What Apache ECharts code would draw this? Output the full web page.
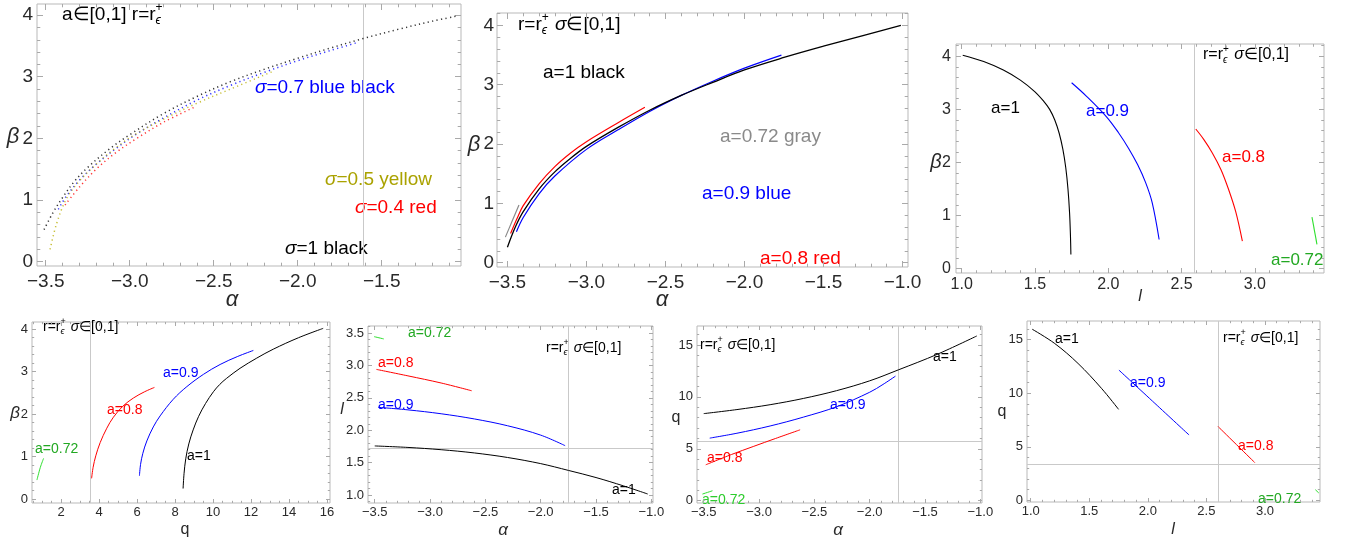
<!DOCTYPE html>
<html>
<head>
<meta charset="utf-8">
<script src="https://cdn.jsdelivr.net/npm/echarts@6/dist/echarts.min.js"></script>
<style>
  html, body { margin: 0; padding: 0; background: #fff; }
  #chart { width: 1350px; height: 544px; }
</style>
</head>
<body>
<div id="chart"></div>
<script>
// ---- curve data: [x, y] pairs per panel ----
// Panel 1: beta vs alpha, a in [0,1], dotted curves for several sigma
const p1Sigma1  = [[-3.51,0.52],[-3.46,0.78],[-3.40,1.04],[-3.33,1.30],[-3.25,1.53],[-3.12,1.83],[-3.00,2.06],[-2.80,2.40],[-2.60,2.68],[-2.40,2.92],[-2.20,3.12],[-2.00,3.30],[-1.80,3.47],[-1.61,3.62],[-1.40,3.77],[-1.20,3.90],[-1.06,3.98]];
const p1Sigma07 = [[-3.425,0.85],[-3.38,1.05],[-3.30,1.32],[-3.20,1.58],[-3.08,1.84],[-2.96,2.07],[-2.80,2.33],[-2.60,2.62],[-2.40,2.86],[-2.20,3.07],[-2.00,3.26],[-1.80,3.43],[-1.65,3.55]];
const p1Sigma05 = [[-3.474,0.20],[-3.435,0.62],[-3.375,1.03],[-3.296,1.32],[-3.196,1.59],[-3.077,1.86],[-2.958,2.08],[-2.80,2.31],[-2.60,2.57],[-2.40,2.80],[-2.145,3.09]];
const p1Sigma04 = [[-3.385,0.92],[-3.296,1.22],[-3.196,1.51],[-3.077,1.78],[-2.958,2.00],[-2.80,2.26],[-2.62,2.50]];

// Panel 2: beta vs alpha, sigma in [0,1]
const p2A1   = [[-3.50,0.26],[-3.45,0.60],[-3.40,0.86],[-3.30,1.24],[-3.20,1.53],[-3.10,1.76],[-3.00,1.96],[-2.80,2.28],[-2.60,2.57],[-2.40,2.82],[-2.20,3.04],[-2.00,3.25],[-1.75,3.46],[-1.50,3.65],[-1.25,3.83],[-1.01,4.00]];
const p2A09  = [[-3.443,0.52],[-3.40,0.76],[-3.30,1.16],[-3.20,1.46],[-3.00,1.91],[-2.80,2.24],[-2.60,2.55],[-2.40,2.82],[-2.20,3.06],[-2.00,3.28],[-1.766,3.50]];
const p2A08  = [[-3.48,0.49],[-3.44,0.74],[-3.40,0.96],[-3.30,1.33],[-3.20,1.62],[-3.10,1.85],[-3.00,2.04],[-2.80,2.36],[-2.63,2.62]];
const p2A072 = [[-3.513,0.43],[-3.47,0.70],[-3.427,0.97]];

// Panel 3: beta vs l
const p3A1   = [[1.007,4.02],[1.15,3.90],[1.284,3.74],[1.40,3.55],[1.50,3.33],[1.56,3.15],[1.60,3.00],[1.635,2.80],[1.665,2.55],[1.69,2.25],[1.71,1.90],[1.725,1.50],[1.736,1.05],[1.742,0.62],[1.745,0.27]];
const p3A09  = [[1.75,3.50],[1.85,3.25],[1.988,2.86],[2.07,2.56],[2.14,2.26],[2.20,1.96],[2.255,1.62],[2.30,1.24],[2.347,0.55]];
const p3A08  = [[2.597,2.63],[2.65,2.44],[2.71,2.18],[2.77,1.86],[2.82,1.50],[2.87,1.07],[2.915,0.52]];
const p3A072 = [[3.39,0.97],[3.424,0.46]];

// Panel 4: beta vs q
const p4A1   = [[8.42,0.25],[8.47,0.60],[8.56,0.95],[8.72,1.30],[8.95,1.63],[9.24,1.95],[9.60,2.25],[10.02,2.53],[10.35,2.70],[10.7,2.84],[11.42,3.08],[12.3,3.32],[13.17,3.53],[14.5,3.80],[15.8,4.02]];
const p4A09  = [[6.12,0.55],[6.18,0.82],[6.30,1.08],[6.51,1.37],[6.85,1.70],[7.21,1.96],[7.90,2.35],[8.62,2.65],[9.50,2.94],[10.37,3.17],[11.3,3.36],[12.12,3.50]];
const p4A08  = [[3.60,0.49],[3.68,0.75],[3.82,1.02],[4.05,1.33],[4.40,1.67],[4.75,1.93],[5.25,2.19],[5.80,2.38],[6.40,2.53],[6.91,2.63]];
const p4A072 = [[0.72,0.45],[0.90,0.75],[1.07,0.96]];

// Panel 5: l vs alpha
const p5A1   = [[-3.50,1.758],[-3.20,1.735],[-2.90,1.700],[-2.60,1.650],[-2.30,1.580],[-2.00,1.485],[-1.749,1.38],[-1.50,1.27],[-1.25,1.14],[-1.033,1.016]];
const p5A09  = [[-3.47,2.355],[-3.20,2.315],[-2.90,2.255],[-2.60,2.175],[-2.30,2.07],[-2.00,1.925],[-1.779,1.762]];
const p5A08  = [[-3.485,2.94],[-3.20,2.84],[-2.90,2.73],[-2.624,2.61]];
const p5A072 = [[-3.506,3.446],[-3.418,3.41]];

// Panel 6: q vs alpha
const p6A1   = [[-3.50,8.39],[-3.20,8.78],[-2.90,9.25],[-2.60,9.85],[-2.30,10.6],[-2.00,11.55],[-1.742,12.6],[-1.39,14.1],[-1.032,15.87]];
const p6A09  = [[-3.446,6.03],[-3.20,6.50],[-2.90,7.20],[-2.60,8.05],[-2.30,9.05],[-2.00,10.45],[-1.88,11.20],[-1.767,12.0]];
const p6A08  = [[-3.482,3.46],[-3.25,4.45],[-3.053,5.22],[-2.85,6.00],[-2.629,6.83]];
const p6A072 = [[-3.512,0.64],[-3.421,0.96]];

// Panel 7: q vs l
const p7A1   = [[1.013,15.96],[1.205,14.63],[1.404,12.77],[1.604,10.45],[1.75,8.49]];
const p7A09  = [[1.753,12.15],[2.06,9.05],[2.352,6.10]];
const p7A08  = [[2.60,6.88],[2.913,3.53]];
const p7A072 = [[3.43,1.00],[3.46,0.69]];

// reference grid lines
const p1VLines = [-1.61];
const p3VLines = [2.592];
const p4VLines = [3.54];
const p5VLines = [-1.749], p5HLines = [1.73];
const p6VLines = [-1.742], p6HLines = [5.70];
const p7VLines = [2.60],   p7HLines = [3.38];

// tick labels
const alphaTicksShort = [-3.5, -3.0, -2.5, -2.0, -1.5];
const alphaTicks = [-3.5, -3.0, -2.5, -2.0, -1.5, -1.0];
const betaTicks = [0, 1, 2, 3, 4];
const lTicks = [1.0, 1.5, 2.0, 2.5, 3.0];
const qTicks = [2, 4, 6, 8, 10, 12, 14, 16];
const lTicksY = [1.0, 1.5, 2.0, 2.5, 3.0, 3.5];
const qTicksY = [0, 5, 10, 15];

// ---- styling ----
const FONT = "'Liberation Sans', Arial, sans-serif";
const TICK = '#a9a9a9';
const FRAME = '#b9b9b9';
const LBL = '#2a2a2a';
const BLACK = '#000000', BLUE = '#0000ff', RED = '#ff0000', GRAY = '#8a8a8a';
const GREEN_LINE = '#2ee02e', GREEN_TXT = '#22a822', YELLOW_LINE = '#b8ae00', YELLOW_TXT = '#aaa200';
const DOTS = [1.2, 3.3];

function fmt(v, d) {
  const s = Math.abs(v).toFixed(d);
  return (v < 0 ? '\u2212' : '') + s;
}
function minors(lo, hi, step, majors) {
  const out = [];
  for (let k = Math.ceil(lo / step - 1e-9); k * step <= hi + 1e-9; k++) {
    const v = +(k * step).toFixed(6);
    if (!majors.some(m => Math.abs(m - v) < 1e-9)) out.push(v);
  }
  return out;
}

const panels = [
  { rect: [37, 4, 424, 262], x: [-3.552, -1.028], y: [-0.07, 4.18], xt: alphaTicksShort, yt: betaTicks,
    xs: 0.1, ys: 0.2, xd: 1, yd: 0, fs: 19, tl: 6, xm: 6, ym: 4, vl: p1VLines, hl: [],
    curves: [[p1Sigma1, BLACK, 1.5, DOTS], [p1Sigma07, BLUE, 1.5, DOTS], [p1Sigma05, YELLOW_LINE, 1.5, DOTS], [p1Sigma04, RED, 1.5, DOTS]] },
  { rect: [497, 13, 411, 254], x: [-3.566, -0.965], y: [-0.074, 4.21], xt: alphaTicks, yt: betaTicks,
    xs: 0.1, ys: 0.2, xd: 1, yd: 0, fs: 19, tl: 6, xm: 6, ym: 3, vl: [], hl: [],
    curves: [[p2A072, GRAY, 1.2], [p2A08, RED, 1.2], [p2A09, BLUE, 1.2], [p2A1, BLACK, 1.3]] },
  { rect: [956, 44, 368, 229], x: [0.961, 3.472], y: [-0.08, 4.23], xt: lTicks, yt: betaTicks,
    xs: 0.1, ys: 0.2, xd: 1, yd: 0, fs: 16, tl: 5, xm: 4, ym: 5, vl: p3VLines, hl: [],
    curves: [[p3A1, BLACK, 1.1], [p3A09, BLUE, 1.1], [p3A08, RED, 1.1], [p3A072, GREEN_LINE, 1.1]] },
  { rect: [32, 322, 298, 181], x: [0.46, 16.16], y: [-0.09, 4.17], xt: qTicks, yt: betaTicks,
    xs: 0.5, ys: 0.2, xd: 0, yd: 0, fs: 13, tl: 4, xm: 3, ym: 4, vl: p4VLines, hl: [],
    curves: [[p4A1, BLACK, 1], [p4A09, BLUE, 1], [p4A08, RED, 1], [p4A072, GREEN_LINE, 1]] },
  { rect: [368, 326, 285, 177], x: [-3.561, -0.985], y: [0.877, 3.61], xt: alphaTicks, yt: lTicksY,
    xs: 0.1, ys: 0.1, xd: 1, yd: 1, fs: 13, tl: 4, xm: 3, ym: 4, vl: p5VLines, hl: p5HLines,
    curves: [[p5A1, BLACK, 1], [p5A09, BLUE, 1], [p5A08, RED, 1], [p5A072, GREEN_LINE, 1]] },
  { rect: [697, 326, 285, 177], x: [-3.561, -0.985], y: [-0.22, 16.83], xt: alphaTicks, yt: qTicksY,
    xs: 0.1, ys: 1, xd: 1, yd: 0, fs: 13, tl: 4, xm: 3, ym: 4, vl: p6VLines, hl: p6HLines,
    curves: [[p6A1, BLACK, 1], [p6A09, BLUE, 1], [p6A08, RED, 1], [p6A072, GREEN_LINE, 1]] },
  { rect: [1027, 321, 293, 181], x: [0.968, 3.47], y: [-0.15, 16.73], xt: lTicks, yt: qTicksY,
    xs: 0.1, ys: 1, xd: 1, yd: 0, fs: 13, tl: 4, xm: 3, ym: 4, vl: p7VLines, hl: p7HLines,
    curves: [[p7A1, BLACK, 1], [p7A09, BLUE, 1], [p7A08, RED, 1], [p7A072, GREEN_LINE, 1]] }
];

const grid = [], xAxis = [], yAxis = [], series = [];

function makeAxis(dim, gi, p, side, vals, len, label) {
  const range = dim === 'x' ? p.x : p.y;
  return {
    gridIndex: gi, type: 'value', min: range[0], max: range[1], position: side, silent: true,
    axisLine: { show: false, onZero: false },
    splitLine: { show: false }, minorTick: { show: false }, minorSplitLine: { show: false },
    axisTick: { show: true, inside: true, length: len, customValues: vals, lineStyle: { color: TICK, width: 1 } },
    axisLabel: label ? {
      show: true, customValues: vals, hideOverlap: false,
      formatter: v => fmt(v, dim === 'x' ? p.xd : p.yd),
      fontSize: p.fs, color: LBL, fontFamily: FONT, margin: dim === 'x' ? p.xm : p.ym
    } : { show: false }
  };
}

panels.forEach((p, gi) => {
  grid.push({ left: p.rect[0], top: p.rect[1], width: p.rect[2], height: p.rect[3],
    show: true, borderColor: FRAME, borderWidth: 1, backgroundColor: 'transparent' });
  const xMin = minors(p.x[0], p.x[1], p.xs, p.xt);
  const yMin = minors(p.y[0], p.y[1], p.ys, p.yt);
  const xi = xAxis.length, yi = yAxis.length;
  xAxis.push(makeAxis('x', gi, p, 'bottom', p.xt, p.tl, true));
  xAxis.push(makeAxis('x', gi, p, 'top', p.xt, p.tl, false));
  xAxis.push(makeAxis('x', gi, p, 'bottom', xMin, p.tl * 0.55, false));
  xAxis.push(makeAxis('x', gi, p, 'top', xMin, p.tl * 0.55, false));
  yAxis.push(makeAxis('y', gi, p, 'left', p.yt, p.tl, true));
  yAxis.push(makeAxis('y', gi, p, 'right', p.yt, p.tl, false));
  yAxis.push(makeAxis('y', gi, p, 'left', yMin, p.tl * 0.55, false));
  yAxis.push(makeAxis('y', gi, p, 'right', yMin, p.tl * 0.55, false));

  // grid lines behind the curves
  series.push({
    type: 'line', xAxisIndex: xi, yAxisIndex: yi, data: [], silent: true, z: 1,
    markLine: {
      silent: true, symbol: ['none', 'none'], animation: false, label: { show: false },
      lineStyle: { color: '#c9c9c9', width: 1, type: 'solid' },
      data: p.vl.map(v => ({ xAxis: v })).concat(p.hl.map(v => ({ yAxis: v })))
    }
  });
  p.curves.forEach(c => {
    series.push({
      type: 'line', xAxisIndex: xi, yAxisIndex: yi, data: c[0], silent: true, z: 5,
      showSymbol: false, symbol: 'none', smooth: 0.35, clip: true,
      lineStyle: { color: c[1], width: c[2], type: c[3] || 'solid', opacity: c[3] ? 0.8 : 1 }
    });
  });
});

// ---- text: annotations and axis names ----
const mctx = document.createElement('canvas').getContext('2d');
function fontOf(size, it) { return (it ? 'italic ' : '') + size + 'px ' + FONT; }
function tw(t, size, it) { mctx.font = fontOf(size, it); return mctx.measureText(t).width; }

// a run of text pieces laid out left to right; {t, i} or {sub, sup}
function runText(x, y, segs, size, color) {
  const children = [];
  let cx = 0;
  segs.forEach(s => {
    if (s.sub !== undefined) {
      const ss = Math.round(size * 0.62);
      children.push({ type: 'text', x: cx, y: size * 0.3, silent: true,
        style: { text: s.sub, font: fontOf(ss, true), fill: color, align: 'left', verticalAlign: 'middle' } });
      children.push({ type: 'text', x: cx, y: -size * 0.38, silent: true,
        style: { text: s.sup, font: fontOf(ss, false), fill: color, align: 'left', verticalAlign: 'middle' } });
      cx += Math.max(tw(s.sub, ss, true), tw(s.sup, ss, false)) + 1;
    } else {
      children.push({ type: 'text', x: cx, y: 0, silent: true,
        style: { text: s.t, font: fontOf(size, !!s.i), fill: color, align: 'left', verticalAlign: 'middle' } });
      cx += tw(s.t, size, !!s.i);
    }
  });
  return { type: 'group', x: x, y: y, silent: true, z: 20, children: children };
}
const rLabel = [{ t: 'r=r' }, { sub: '\u03f5', sup: '+' }, { t: ' ' }, { t: '\u03c3', i: 1 }, { t: '\u2208[0,1]' }];

const notes = [
  [62, 15, 19, BLACK, [{ t: 'a\u2208[0,1] r=r' }, { sub: '\u03f5', sup: '+' }]],
  [255, 88, 19, BLUE, [{ t: '\u03c3', i: 1 }, { t: '=0.7 blue black' }]],
  [325, 180, 19, YELLOW_TXT, [{ t: '\u03c3', i: 1 }, { t: '=0.5 yellow' }]],
  [355, 208, 19, RED, [{ t: '\u03c3', i: 1 }, { t: '=0.4 red' }]],
  [285, 249, 19, BLACK, [{ t: '\u03c3', i: 1 }, { t: '=1 black' }]],
  [518, 25, 19, BLACK, rLabel],
  [543, 73, 19, BLACK, [{ t: 'a=1 black' }]],
  [720, 137, 19, GRAY, [{ t: 'a=0.72 gray' }]],
  [702, 194, 19, BLUE, [{ t: 'a=0.9 blue' }]],
  [760, 259, 19, RED, [{ t: 'a=0.8 red' }]],
  [1203, 55, 16, BLACK, rLabel],
  [991, 108, 17, BLACK, [{ t: 'a=1' }]],
  [1086, 111, 17, BLUE, [{ t: 'a=0.9' }]],
  [1222, 157, 17, RED, [{ t: 'a=0.8' }]],
  [1271, 260, 17, GREEN_TXT, [{ t: 'a=0.72' }]],
  [43, 327, 14, BLACK, rLabel],
  [163, 373, 14, BLUE, [{ t: 'a=0.9' }]],
  [107, 410, 14, RED, [{ t: 'a=0.8' }]],
  [35, 449, 14, GREEN_TXT, [{ t: 'a=0.72' }]],
  [187, 456, 14, BLACK, [{ t: 'a=1' }]],
  [408, 333, 14, GREEN_TXT, [{ t: 'a=0.72' }]],
  [546, 348, 14, BLACK, rLabel],
  [378, 363, 14, RED, [{ t: 'a=0.8' }]],
  [378, 405, 14, BLUE, [{ t: 'a=0.9' }]],
  [612, 490, 14, BLACK, [{ t: 'a=1' }]],
  [700, 345, 14, BLACK, rLabel],
  [933, 357, 14, BLACK, [{ t: 'a=1' }]],
  [830, 405, 14, BLUE, [{ t: 'a=0.9' }]],
  [707, 458, 14, RED, [{ t: 'a=0.8' }]],
  [702, 500, 14, '#2ccc2c', [{ t: 'a=0.72' }]],
  [1055, 339, 14, BLACK, [{ t: 'a=1' }]],
  [1223, 338, 14, BLACK, rLabel],
  [1130, 383, 14, BLUE, [{ t: 'a=0.9' }]],
  [1238, 446, 14, RED, [{ t: 'a=0.8' }]],
  [1258, 499, 14, GREEN_TXT, [{ t: 'a=0.72' }]]
];

// axis names: [x, y, size, text, italic]
const axisNames = [
  [13, 137, 22, '\u03b2', true], [232, 300, 22, '\u03b1', true],
  [474, 145, 22, '\u03b2', true], [662, 300, 22, '\u03b1', true],
  [936, 162, 20, '\u03b2', true], [1140, 297, 16, 'l', true],
  [15, 413, 17, '\u03b2', true], [185, 530, 16, 'q', false],
  [342, 410, 16, 'l', true], [503, 530, 17, '\u03b1', true],
  [676, 418, 16, 'q', false], [838, 530, 17, '\u03b1', true],
  [1002, 412, 16, 'q', false], [1173, 530, 16, 'l', true]
];

const graphic = notes.map(n => runText(n[0], n[1], n[4], n[2], n[3]))
  .concat(axisNames.map(a => ({
    type: 'text', x: a[0], y: a[1], silent: true, z: 20,
    style: { text: a[3], font: fontOf(a[2], a[4]), fill: LBL, align: 'center', verticalAlign: 'middle' }
  })));

const chart = echarts.init(document.getElementById('chart'), null, { renderer: 'canvas' });
chart.setOption({
  animation: false,
  backgroundColor: '#ffffff',
  grid: grid,
  xAxis: xAxis,
  yAxis: yAxis,
  series: series,
  graphic: graphic
});
</script>
</body>
</html>
